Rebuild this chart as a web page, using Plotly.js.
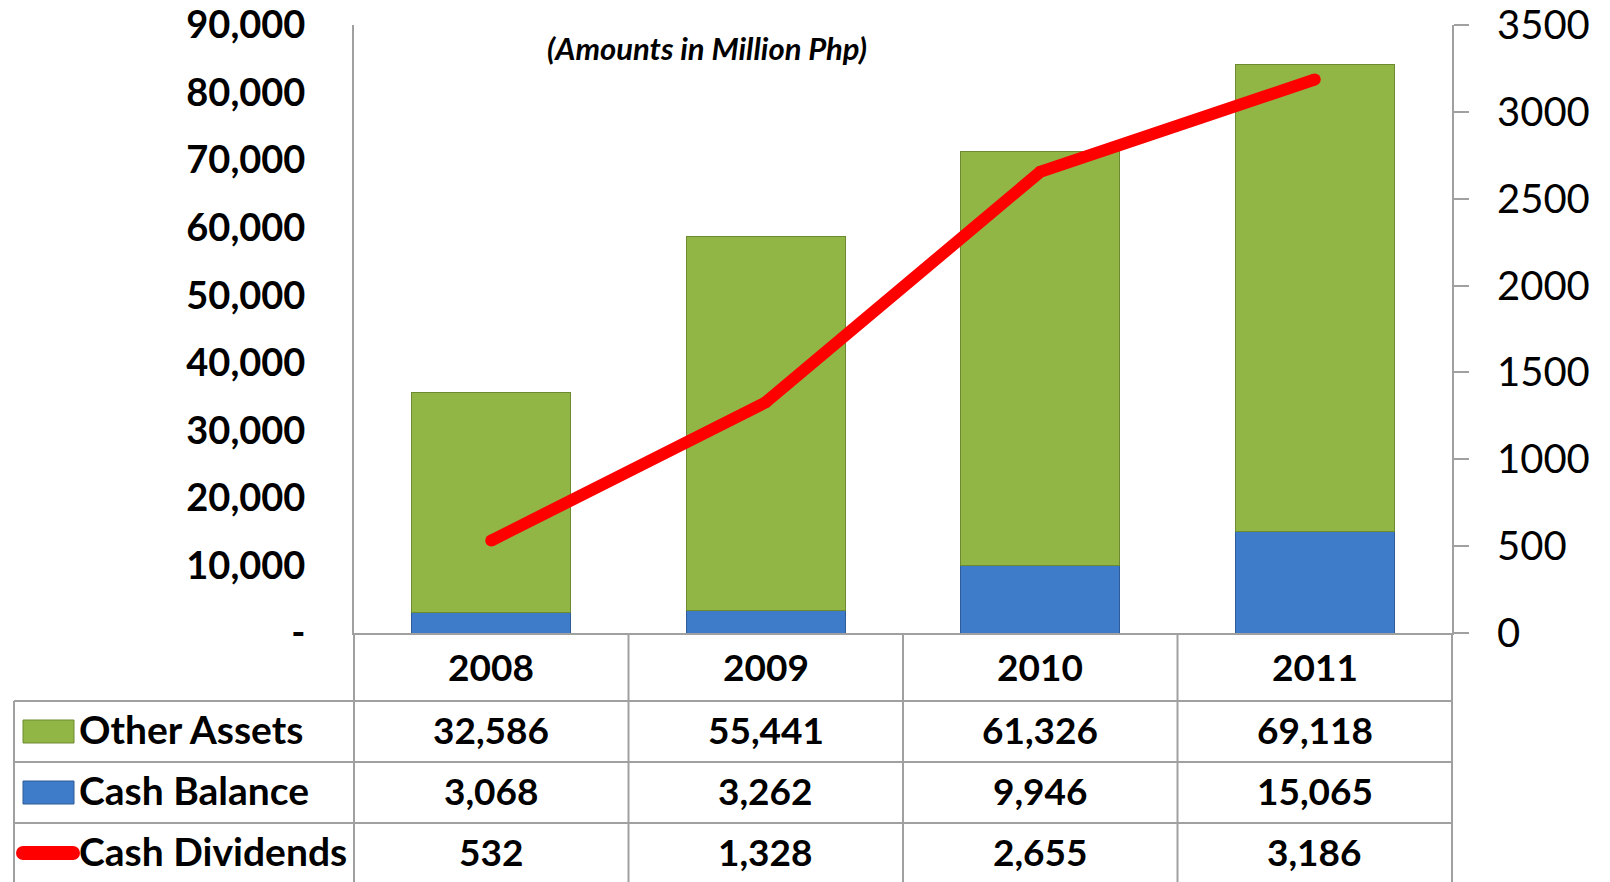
<!DOCTYPE html>
<html>
<head>
<meta charset="utf-8">
<script src="https://cdn.plot.ly/plotly-3.0.1.min.js"></script>
<style>
html,body{margin:0;padding:0;background:#fff;}
#chart{width:1610px;height:882px;}
</style>
</head>
<body>
<div id="chart"></div>
<script>
// ---- data ----
const years = ['2008', '2009', '2010', '2011'];
const otherAssets = [32586, 55441, 61326, 69118];
const cashBalance = [3068, 3262, 9946, 15065];
const cashDividends = [532, 1328, 2655, 3186];
const seriesNames = ['Other Assets', 'Cash Balance', 'Cash Dividends'];
const leftTickVals = [0, 10000, 20000, 30000, 40000, 50000, 60000, 70000, 80000, 90000];
const leftTickText = ['-', '10,000', '20,000', '30,000', '40,000', '50,000', '60,000', '70,000', '80,000', '90,000'];
const rightTickVals = [0, 500, 1000, 1500, 2000, 2500, 3000, 3500];
const titleText = '(Amounts in Million Php)';

// ---- geometry helpers (pixel -> paper) ----
const W = 1610, H = 882;
const L = 354, R = 158, T = 25, B = 249;
const PW = W - L - R, PH = H - T - B;
const px = x => (x - L) / PW;
const py = y => (H - B - y) / PH;

const FONT = 'Lato, "Open Sans", "DejaVu Sans", sans-serif';
const GRID = '#A0A0A0';
const GREEN = '#92B646', GREEN_LINE = '#6E8A30';
const BLUE = '#3E7BC8', BLUE_LINE = '#2E5C96';
const RED = '#FF0000';
const fmt = v => v.toLocaleString('en-US');

const traces = [
  {type: 'bar', name: seriesNames[1], x: years, y: cashBalance,
   marker: {color: BLUE, line: {color: BLUE_LINE, width: 1}}, hoverinfo: 'skip'},
  {type: 'bar', name: seriesNames[0], x: years, y: otherAssets,
   marker: {color: GREEN, line: {color: GREEN_LINE, width: 1}}, hoverinfo: 'skip'},
  {type: 'scatter', mode: 'lines+markers', name: seriesNames[2], x: years, y: cashDividends, yaxis: 'y2',
   line: {color: RED, width: 12, shape: 'linear'}, marker: {color: RED, size: 12, line: {width: 0}},
   hoverinfo: 'skip'}
];

// table lines
const shapes = [];
const tableBottom = py(882), rowLines = [701, 762, 823];
[0, 0.25, 0.5, 0.75, 1].forEach(x => shapes.push({type: 'line', xref: 'paper', yref: 'paper',
  x0: x, x1: x, y0: 0, y1: tableBottom, line: {color: GRID, width: 2}}));
shapes.push({type: 'line', xref: 'paper', yref: 'paper', x0: px(14), x1: px(14), y0: py(701), y1: tableBottom,
  line: {color: GRID, width: 2}});
rowLines.forEach(y => shapes.push({type: 'line', xref: 'paper', yref: 'paper', x0: px(14), x1: 1,
  y0: py(y), y1: py(y), line: {color: GRID, width: 2}}));
// legend keys
shapes.push({type: 'rect', xref: 'paper', yref: 'paper', x0: px(23), x1: px(74), y0: py(743), y1: py(720),
  fillcolor: GREEN, line: {color: GREEN_LINE, width: 1}});
shapes.push({type: 'rect', xref: 'paper', yref: 'paper', x0: px(23), x1: px(74), y0: py(804), y1: py(781),
  fillcolor: BLUE, line: {color: BLUE_LINE, width: 1}});
shapes.push({type: 'line', xref: 'paper', yref: 'paper', x0: px(23), x1: px(73), y0: py(853), y1: py(853),
  line: {color: RED, width: 14}});
[23, 73].forEach(cx => shapes.push({type: 'circle', xref: 'paper', yref: 'paper',
  x0: px(cx - 7), x1: px(cx + 7), y0: py(860), y1: py(846), fillcolor: RED, line: {width: 0}}));

// annotations
const annotations = [];
const boldFont = (size) => ({family: FONT, size: size, color: '#000', weight: 'bold'});
years.forEach((yr, i) => {
  const rows = [[yr, 666], [fmt(otherAssets[i]), 729], [fmt(cashBalance[i]), 790], [fmt(cashDividends[i]), 851]];
  rows.forEach(([t, y]) => annotations.push({xref: 'paper', yref: 'paper', x: (i + 0.5) / years.length, y: py(y),
    text: t, showarrow: false, xanchor: 'center', yanchor: 'middle', font: boldFont(37)}));
});
[[seriesNames[0], 729], [seriesNames[1], 790], [seriesNames[2], 851]].forEach(([t, y]) => {
  annotations.push({xref: 'paper', yref: 'paper', x: px(77), y: py(y), text: t, showarrow: false,
    xanchor: 'left', yanchor: 'middle', font: boldFont(39)});
});
annotations.push({xref: 'paper', yref: 'paper', x: px(707), y: py(48), text: titleText, showarrow: false,
  xanchor: 'center', yanchor: 'middle', font: {family: FONT, size: 31, color: '#000', weight: 'bold', style: 'italic'}});

const layout = {
  width: W, height: H,
  margin: {l: L, r: R, t: T, b: B, pad: 0},
  paper_bgcolor: '#fff', plot_bgcolor: '#fff',
  showlegend: false,
  barmode: 'stack',
  bargap: 0.42,
  font: {family: FONT, color: '#000'},
  xaxis: {type: 'category', range: [-0.5, years.length - 0.5], showticklabels: false, ticks: '',
    showgrid: false, zeroline: false, showline: true, linecolor: GRID, linewidth: 2, fixedrange: true},
  yaxis: {range: [0, 90000], tickvals: leftTickVals, ticktext: leftTickText, ticks: '',
    ticklabelstandoff: 39, showgrid: false, zeroline: false, showline: true, linecolor: GRID, linewidth: 2,
    tickfont: {family: FONT, size: 38, color: '#000', weight: 'bold'}, fixedrange: true},
  yaxis2: {overlaying: 'y', side: 'right', range: [0, 3500], tickvals: rightTickVals,
    ticks: 'outside', ticklen: 15, tickwidth: 2, tickcolor: GRID, ticklabelstandoff: 20,
    showgrid: false, zeroline: false, showline: true, linecolor: GRID, linewidth: 2,
    tickfont: {family: FONT, size: 40, color: '#000'}, fixedrange: true},
  shapes: shapes,
  annotations: annotations
};

Plotly.newPlot('chart', traces, layout, {displayModeBar: false, staticPlot: true});
</script>
</body>
</html>
